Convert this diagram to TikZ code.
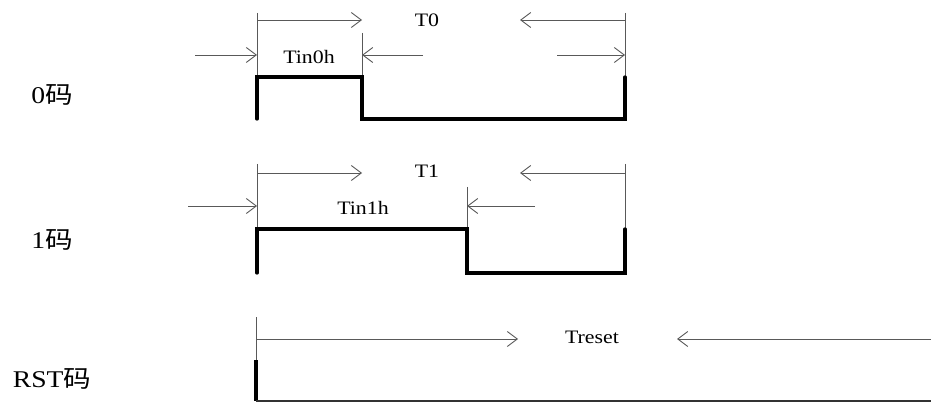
\documentclass[tikz,border=0pt]{standalone}
\usepackage{fontspec}
\setmainfont{Liberation Serif}
\newfontfamily\cjk{Noto Sans CJK SC}
\usetikzlibrary{arrows.meta}
\newcommand{\wtxt}[1]{\scalebox{1.15}[1]{#1}}
\tikzset{
  dim/.style={draw=black!65, line width=0.9pt},
  dimarr/.style={dim, -{Straight Barb[length=10pt,width=15pt,line width=0.9pt]}},
  wave/.style={draw=black, line width=3.3pt, line join=miter, line cap=round},
  tlab/.style={inner sep=0pt, font=\fontsize{19}{21}\selectfont},
  rlab/.style={inner sep=0pt, font=\fontsize{24}{26}\selectfont},
}
\begin{document}
\begin{tikzpicture}[x=1pt,y=-1pt]
\useasboundingbox (0,0) rectangle (931,403);
% row labels
\node[rlab] (l0) at (52,95) {\wtxt{0{\cjk 码}}};
\node[rlab] (l1) at (52,240) {\wtxt{1{\cjk 码}}};
\node[rlab] (lr) at (52,379) {\wtxt{RST{\cjk 码}}};
% ---------- 0 code ----------
\coordinate (a0t) at (257,13);
\coordinate (a0b) at (257,77);
\coordinate (b0t) at (362,33);
\coordinate (b0b) at (362,77);
\coordinate (c0t) at (625,13);
\coordinate (c0b) at (625,77);
\draw[dim] (a0t) -- (a0b);
\draw[dim] (b0t) -- (b0b);
\draw[dim] (c0t) -- (c0b);
\coordinate (a0u) at (257,20);
\coordinate (c0u) at (625,20);
\coordinate (p0r) at (362,20);
\coordinate (p0l) at (520,20);
\draw[dimarr] (a0u) -- (p0r);
\draw[dimarr] (c0u) -- (p0l);
\node[tlab] (T0) at (427,20) {\wtxt{T0}};
\coordinate (q0a) at (195,55);
\coordinate (q0b) at (257,55);
\coordinate (q0c) at (423,55);
\coordinate (q0d) at (362,55);
\coordinate (q0e) at (557,55);
\coordinate (q0f) at (625,55);
\draw[dimarr] (q0a) -- (q0b);
\draw[dimarr] (q0c) -- (q0d);
\draw[dimarr] (q0e) -- (q0f);
\node[tlab] (Tin0h) at (309,57) {\wtxt{Tin0h}};
\coordinate (w0a) at (257,119);
\coordinate (w0b) at (257,77);
\coordinate (w0c) at (362,77);
\coordinate (w0d) at (362,119);
\coordinate (w0e) at (625,119);
\coordinate (w0f) at (625,77);
\draw[wave] (w0a) -- (w0b) -- (w0c) -- (w0d) -- (w0e) -- (w0f);
% ---------- 1 code ----------
\coordinate (a1t) at (257,164);
\coordinate (a1b) at (257,229);
\coordinate (b1t) at (467,187);
\coordinate (b1b) at (467,229);
\coordinate (c1t) at (625,164);
\coordinate (c1b) at (625,229);
\draw[dim] (a1t) -- (a1b);
\draw[dim] (b1t) -- (b1b);
\draw[dim] (c1t) -- (c1b);
\coordinate (a1u) at (257,173);
\coordinate (c1u) at (625,173);
\coordinate (p1r) at (362,173);
\coordinate (p1l) at (520,173);
\draw[dimarr] (a1u) -- (p1r);
\draw[dimarr] (c1u) -- (p1l);
\node[tlab] (T1) at (427,171) {\wtxt{T1}};
\coordinate (q1a) at (188,206);
\coordinate (q1b) at (257,206);
\coordinate (q1c) at (535,206);
\coordinate (q1d) at (467,206);
\draw[dimarr] (q1a) -- (q1b);
\draw[dimarr] (q1c) -- (q1d);
\node[tlab] (Tin1h) at (363,208) {\wtxt{Tin1h}};
\coordinate (w1a) at (257,273);
\coordinate (w1b) at (257,229);
\coordinate (w1c) at (467,229);
\coordinate (w1d) at (467,273);
\coordinate (w1e) at (625,273);
\coordinate (w1f) at (625,229);
\draw[wave] (w1a) -- (w1b) -- (w1c) -- (w1d) -- (w1e) -- (w1f);
% ---------- RST code ----------
\coordinate (art) at (256,317);
\coordinate (arb) at (256,360);
\draw[dim] (art) -- (arb);
\coordinate (aru) at (256,339);
\coordinate (prr) at (518,339);
\coordinate (rru) at (931,339);
\coordinate (prl) at (677,339);
\draw[dimarr] (aru) -- (prr);
\draw[dimarr] (rru) -- (prl);
\node[tlab] (Treset) at (592,337) {\wtxt{Treset}};
\coordinate (wra) at (256,360);
\coordinate (wrb) at (256,401);
\coordinate (wrc) at (931,401);
\draw[wave, line cap=butt] (wra) -- (wrb);
\draw[draw=black!80, line width=1.5pt] (wrb) -- (wrc);
\end{tikzpicture}
\end{document}
